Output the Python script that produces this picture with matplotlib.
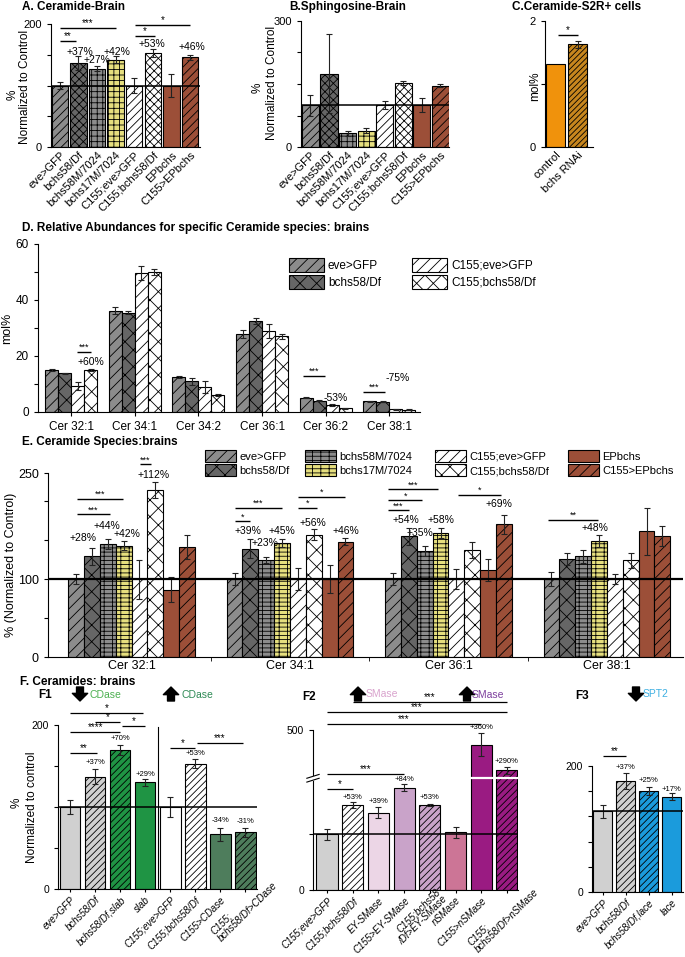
import numpy as np
import matplotlib
matplotlib.use('Agg')
import matplotlib.pyplot as plt
from matplotlib.patches import Patch, Rectangle, FancyArrowPatch

plt.rcParams['font.family'] = ['Liberation Sans', 'DejaVu Sans']
plt.rcParams['hatch.linewidth'] = 0.6
plt.rcParams['axes.linewidth'] = 0.8
plt.rcParams['xtick.major.width'] = 0.8
plt.rcParams['ytick.major.width'] = 0.8
plt.rcParams['xtick.major.size'] = 3
plt.rcParams['ytick.major.size'] = 3

# ---------------- data ----------------
genotypes_ab = ["eve>GFP", "bchs58/Df", "bchs58M/7024", "bchs17M/7024",
                "C155;eve>GFP", "C155;bchs58/Df", "EPbchs", "C155>EPbchs"]
cer_brain = [100, 137, 127, 142, 100, 153, 100, 146]
cer_brain_err = [6, 11, 4, 6, 12, 6, 18, 4]
sph_brain = [100, 175, 33, 39, 100, 153, 100, 146]
sph_brain_err = [25, 95, 6, 6, 10, 5, 16, 3]

s2r_labels = ["control", "bchs RNAi"]
s2r_mol = [1.31, 1.63]
s2r_err = [0, 0.06]

species_d = ["Cer 32:1", "Cer 34:1", "Cer 34:2", "Cer 36:1", "Cer 36:2", "Cer 38:1"]
d_groups = ["eve>GFP", "bchs58/Df", "C155;eve>GFP", "C155;bchs58/Df"]
d_eve = [15.0, 36.2, 12.5, 28.0, 5.1, 3.8]
d_bchs = [13.8, 35.5, 11.0, 32.5, 4.0, 3.7]
d_c155eve = [9.2, 49.8, 9.0, 29.0, 2.5, 0.9]
d_c155bchs = [15.0, 50.0, 6.2, 27.0, 1.3, 0.8]
d_eve_err = [0.3, 1.2, 0.4, 1.4, 0.2, 0.2]
d_bchs_err = [0.3, 0.5, 1.2, 1.0, 0.2, 0.2]
d_c155eve_err = [1.5, 2.5, 2.2, 2.4, 0.5, 0.2]
d_c155bchs_err = [0.5, 1.0, 0.4, 0.8, 0.2, 0.1]

species_e = ["Cer 32:1", "Cer 34:1", "Cer 36:1", "Cer 38:1"]
e_cer321 = [100, 129, 145, 143, 100, 214, 86, 141]
e_cer341 = [100, 139, 124, 146, 100, 157, 100, 148]
e_cer361 = [100, 155, 136, 159, 100, 137, 112, 170]
e_cer381 = [100, 126, 129, 149, 100, 124, 161, 155]
e_cer321_err = [7, 11, 6, 6, 25, 10, 16, 15]
e_cer341_err = [8, 12, 4, 5, 14, 7, 18, 4]
e_cer361_err = [8, 11, 7, 7, 13, 10, 14, 12]
e_cer381_err = [9, 8, 8, 8, 6, 10, 30, 13]

f1_labels = ["eve>GFP", "bchs58/Df", "bchs58/Df,slab", "slab", "C155;eve>GFP",
             "C155;bchs58/Df", "C155>CDase", "C155;\nbchs58/Df>CDase"]
f1_vals = [100, 137, 170, 130, 100, 153, 67, 69]
f1_err = [8, 9, 6, 4, 12, 5, 8, 5]

f2_labels = ["C155;eve>GFP", "C155;bchs58/Df", "EY-SMase", "C155>EY-SMase",
             "C155;bchs58\n/Df>EY-SMase", "nSMase", "C155>nSMase",
             "C155;\nbchs58/Df>nSMase"]
f2_vals = [100, 153, 139, 184, 153, 104, 460, 390]
f2_err = [10, 5, 10, 6, 2, 10, 32, 10]

f3_labels = ["eve>GFP", "bchs58/Df", "bchs58/Df,lace", "lace"]
f3_vals = [100, 137, 125, 118]
f3_err = [8, 10, 5, 4]

# ---------------- styles ----------------
GRAY = '#8c8c8c'
DGRAY = '#666666'
YEL = '#e6df7e'
BROWN = '#9c4f38'
ab_colors = [GRAY, DGRAY, GRAY, YEL, 'white', 'white', BROWN, BROWN]
ab_hatch = ['////', 'xxxx', '+++', '+++', '////', 'xxxx', None, '////']
e_hatch = ['///', 'xx', '++--', '++--', '///', 'xx', None, '///']

W, H = 685, 957
fig = plt.figure(figsize=(W / 100, H / 100), dpi=100)


def add_ax(l, t, r, b):
    ax = fig.add_axes([l / W, 1 - b / H, (r - l) / W, (b - t) / H])
    ax.spines['top'].set_visible(False)
    ax.spines['right'].set_visible(False)
    return ax


def ftext(x, y, s, **kw):
    kw.setdefault('va', 'center')
    fig.text(x / W, 1 - y / H, s, **kw)


def sig(ax, x1, x2, y, label, fs=7, lw=1.0, gap=0):
    ax.plot([x1, x2], [y, y], color='k', lw=lw, clip_on=False, solid_capstyle='butt')
    ax.annotate(label, ((x1 + x2) / 2, y), xytext=(0, gap), textcoords='offset points',
                ha='center', va='bottom', fontsize=fs, annotation_clip=False)


def bars(ax, x, vals, errs, colors, hatches, width, ecol='k', lw=0.8, elw=0.8, cap=2):
    for xi, v, e, c, h in zip(x, vals, errs, colors, hatches):
        ax.bar(xi, v, width=width, color=c, edgecolor=ecol, hatch=h, linewidth=lw, zorder=2)
        if e:
            ax.errorbar(xi, v, yerr=e, fmt='none', ecolor='#222222', elinewidth=elw,
                        capsize=cap, capthick=elw, zorder=4)


def arrow(x, y_tail, y_tip):
    fig.add_artist(FancyArrowPatch(
        (x / W, 1 - y_tail / H), (x / W, 1 - y_tip / H), transform=fig.transFigure,
        arrowstyle='simple,head_width=1.1,head_length=0.55,tail_width=0.5',
        mutation_scale=10, color='k', shrinkA=0, shrinkB=0))


def xlabels(ax, labels, fs=7, special=None):
    """rotated italic labels; special = {index: (dx_pt, dy_pt, multialign)}"""
    special = special or {}
    ax.set_xticks(np.arange(len(labels)))
    ax.set_xticklabels(['' if i in special else l for i, l in enumerate(labels)])
    for i, (dx, dy, ma) in special.items():
        ax.annotate(labels[i], (i, 0), xycoords=('data', 'axes fraction'),
                    xytext=(dx, dy), textcoords='offset points', rotation=45,
                    ha='right', va='top', rotation_mode='anchor', multialignment=ma,
                    fontsize=fs, style='italic', linespacing=1.0, annotation_clip=False)
    for t in ax.get_xticklabels():
        t.set_rotation(45)
        t.set_ha('right')
        t.set_rotation_mode('anchor')
        t.set_fontsize(fs)
        t.set_style('italic')


# ================= Panel A =================
axA = add_ax(51, 24, 200, 147)
xa = np.arange(8)
bars(axA, xa, cer_brain, cer_brain_err, ab_colors, ab_hatch, 0.88)
axA.axhline(100, color='k', lw=1.1, zorder=5)
axA.set_xlim(-0.48, 7.54)
axA.set_ylim(0, 200)
axA.set_yticks([0, 50, 100, 150, 200])
axA.set_yticklabels(['0', '', '', '', '200'], fontsize=8)
axA.set_xticks(xa)
axA.set_xticklabels(genotypes_ab, rotation=45, ha='right', rotation_mode='anchor', fontsize=8)
axA.tick_params(axis='x', length=0, pad=2)
sig(axA, 0, 3, 193, '***')
sig(axA, 0, 0.85, 172, '**')
sig(axA, 4.03, 7.0, 198, '*')
sig(axA, 4.03, 5.1, 180, '*')
for xi, yv, s in [(1.1, 154, '+37%'), (2.0, 141, '+27%'), (3.07, 154, '+42%'),
                  (4.95, 167, '+53%'), (7.1, 163, '+46%')]:
    axA.text(xi, yv, s, ha='center', va='center', fontsize=7.5)
ftext(22, 7, 'A. Ceramide-Brain', fontsize=8.5, fontweight='bold')
ftext(13, 95, '%', rotation=90, fontsize=8.5, ha='center')
ftext(25, 87, 'Normalized to Control', rotation=90, fontsize=8.5, ha='center')

# ================= Panel B =================
axB = add_ax(301, 21, 449, 147)
bars(axB, xa, sph_brain, sph_brain_err, ab_colors, ab_hatch, 0.92)
axB.axhline(100, color='k', lw=1.1, zorder=5)
axB.set_xlim(-0.51, 7.46)
axB.set_ylim(0, 300)
axB.set_yticks([0, 75, 150, 225, 300])
axB.set_yticklabels(['0', '', '', '', '300'], fontsize=8)
axB.set_xticks(xa)
axB.set_xticklabels(genotypes_ab, rotation=45, ha='right', rotation_mode='anchor', fontsize=8)
axB.tick_params(axis='x', length=0, pad=2)
ftext(348, 7, 'B.Sphingosine-Brain', fontsize=8.5, fontweight='bold', ha='center')
ftext(258, 88, '%', rotation=90, fontsize=8.5, ha='center')
ftext(272, 83, 'Normalized to Control', rotation=90, fontsize=8.5, ha='center')

# ================= Panel C =================
axC = add_ax(545, 21, 593, 147)
bars(axC, [0, 1], s2r_mol, s2r_err, ['#f0920c', '#c7861e'], [None, '//////'], 0.88)
axC.set_xlim(-0.48, 1.7)
axC.set_ylim(0, 2)
axC.set_yticks([0, 1, 2])
axC.set_yticklabels(['0', '', '2'], fontsize=8)
axC.set_xticks([0, 1])
axC.set_xticklabels(s2r_labels, rotation=45, ha='right', rotation_mode='anchor', fontsize=8)
axC.tick_params(axis='x', length=0, pad=2)
sig(axC, 0.1, 1.0, 1.78, '*')
ftext(577, 7, 'C.Ceramide-S2R+ cells', fontsize=8.5, fontweight='bold', ha='center')
ftext(535, 86, 'mol%', rotation=90, fontsize=8.5, ha='center')

# ================= Panel D =================
axD = add_ax(38, 244, 420, 412)
xd = np.arange(len(species_d))
bw = 0.204
d_series = [d_eve, d_bchs, d_c155eve, d_c155bchs]
d_errs = [d_eve_err, d_bchs_err, d_c155eve_err, d_c155bchs_err]
d_cols = [GRAY, DGRAY, 'white', 'white']
d_hat = ['///', 'xx', '///', 'xx']
for i in range(4):
    bars(axD, xd + (i - 1.5) * bw, d_series[i], d_errs[i], [d_cols[i]] * 6, [d_hat[i]] * 6, bw)
axD.set_xlim(-0.52, 5.48)
axD.set_ylim(0, 60)
axD.set_yticks([0, 10, 20, 30, 40, 50, 60])
axD.set_yticklabels(['0', '', '20', '', '40', '', '60'], fontsize=8.5)
axD.set_xticks(xd)
axD.set_xticklabels(species_d, fontsize=8.5)
axD.set_ylabel('mol%', fontsize=9, labelpad=2)
sig(axD, 0.094, 0.314, 21.4, '***', fs=6.5)
sig(axD, 3.64, 3.99, 12.9, '***', fs=6.5)
sig(axD, 4.58, 4.93, 7.1, '***', fs=6.5)
axD.text(0.31, 17.9, '+60%', ha='center', va='center', fontsize=7.5)
axD.text(4.16, 5.1, '-53%', ha='center', va='center', fontsize=7.5)
axD.text(5.13, 12, '-75%', ha='center', va='center', fontsize=7.5)
ftext(22, 228, 'D. Relative Abundances for specific Ceramide species: brains',
      fontsize=8.5, fontweight='bold')
d_handles = [Patch(facecolor=c, edgecolor='k', hatch=h, label=l, linewidth=0.8)
             for c, h, l in zip(d_cols, d_hat, d_groups)]
for k, xpos in enumerate([289, 412]):
    fig.legend(handles=d_handles[2 * k:2 * k + 2], loc='upper left',
               bbox_to_anchor=(xpos / W, 1 - 258 / H), frameon=False, fontsize=8.5,
               handlelength=3.0, handleheight=1.45, handletextpad=0.3,
               labelspacing=0.25, borderpad=0, borderaxespad=0)

# ================= Panel E =================
axE = add_ax(48, 473, 683, 657)
xe = np.arange(4)
e_vals = [e_cer321, e_cer341, e_cer361, e_cer381]
e_errs = [e_cer321_err, e_cer341_err, e_cer361_err, e_cer381_err]
ebw = 0.1
for g in range(4):
    bars(axE, xe[g] + (np.arange(8) - 3.5) * ebw, e_vals[g], e_errs[g], ab_colors, e_hatch, ebw)
axE.axhline(100, color='k', lw=1.6, zorder=5)
axE.set_xlim(-0.527, 3.48)
axE.set_ylim(0, 236)
axE.set_yticks([0, 50, 100, 150, 200, 236])
axE.set_yticklabels(['0', '', '100', '', '', '250'], fontsize=9)
axE.set_xticks(xe)
axE.set_xticklabels(species_e, fontsize=9)
axE.set_xticks(xe[:-1] + 0.5, minor=True)
axE.tick_params(axis='x', which='major', length=0, pad=2)
axE.tick_params(axis='x', which='minor', length=3)
axE.set_ylabel('% (Normalized to Control)', fontsize=9, labelpad=1)
e_sig = [(-0.344, -0.054, 203, '***'), (-0.344, -0.136, 183, '***'), (0.054, 0.123, 247, '***'),
         (1 - 0.347, 1 - 0.252, 174, '*'), (1 - 0.347, 1 - 0.05, 191, '***'),
         (1.05, 1.17, 191, '*'), (1.05, 1.35, 205, '*'),
         (2 - 0.38, 2 - 0.066, 215, '***'), (2 - 0.38, 2 - 0.167, 201, '*'),
         (2 - 0.38, 2 - 0.25, 188, '***'), (2.06, 2.33, 208, '*'),
         (3 - 0.37, 3 - 0.057, 176, '**')]
for x1, x2, yv, s in e_sig:
    sig(axE, x1, x2, yv, s, fs=6.5)
e_pct = [(0.142, 233, '+112%'), (-0.306, 153, '+28%'), (-0.155, 168, '+44%'),
         (-0.03, 158, '+42%'), (1 - 0.265, 161, '+39%'), (1 - 0.16, 146, '+23%'),
         (1 - 0.05, 161, '+45%'), (1.145, 172, '+56%'), (1.355, 161, '+46%'),
         (2 - 0.27, 176, '+54%'), (2 - 0.18, 159, '+35%'), (2 - 0.047, 176, '+58%'),
         (2.32, 196, '+69%'), (3 - 0.076, 165, '+48%')]
for xi, yv, s in e_pct:
    axE.text(xi, yv, s, ha='center', va='center', fontsize=7.5, clip_on=False)
ftext(22, 442, 'E. Ceramide Species:brains', fontsize=8.5, fontweight='bold')
e_handles = [Patch(facecolor=c, edgecolor='k', hatch=h, label=l, linewidth=0.8)
             for c, h, l in zip(ab_colors, e_hatch, genotypes_ab)]
for k, xpos in enumerate([205, 305, 435, 568]):
    fig.legend(handles=e_handles[2 * k:2 * k + 2], loc='upper left',
               bbox_to_anchor=(xpos / W, 1 - 450 / H), frameon=False, fontsize=8,
               handlelength=2.8, handleheight=1.3, handletextpad=0.3,
               labelspacing=0.2, borderpad=0, borderaxespad=0)

# ================= Panel F1 =================
LG = '#d0d0d0'
GREEN = '#1f9444'
DKGREEN = '#4e7d5c'
axF1 = add_ax(58, 725, 257, 889)
xf1 = np.arange(8)
bars(axF1, xf1, f1_vals, f1_err,
     [LG, LG, GREEN, GREEN, 'white', 'white', DKGREEN, DKGREEN],
     [None, '/////', '/////', None, None, '/////', None, '/////'], 0.82)
axF1.axhline(100, color='k', lw=1.1, zorder=5)
axF1.plot([3.5, 3.5], [0, 197], color='k', lw=0.8, zorder=5)
axF1.set_xlim(-0.48, 7.46)
axF1.set_ylim(0, 200)
axF1.set_yticks([0, 50, 100, 150, 200])
axF1.set_yticklabels(['0', '', '', '', '200'], fontsize=7.5)
xlabels(axF1, f1_labels, special={7: (14, 11, 'left')})
axF1.tick_params(axis='x', length=2, pad=2)
for x1, x2, yv, s in [(0, 1.07, 166, '**'), (0, 2.0, 191, '****'), (1.0, 2.0, 204, '*'),
                      (2.06, 3.0, 199, '*'), (0, 2.9, 215, '*'), (4.0, 5.0, 172, '*'),
                      (5.05, 6.9, 178, '***')]:
    sig(axF1, x1, x2, yv, s, fs=7, lw=0.9)
for xi, yv, s in [(1, 154, '+37%'), (2, 184, '+70%'), (3, 140, '+29%'),
                  (5, 165, '+53%'), (6, 83, '-34%'), (7, 82, '-31%')]:
    axF1.text(xi, yv, s, ha='center', va='center', fontsize=5.5)
ftext(20, 682, 'F. Ceramides: brains', fontsize=8.5, fontweight='bold')
ftext(38, 695, 'F1', fontsize=8.5, fontweight='bold')
ftext(17, 803, '%', rotation=90, fontsize=8.5, ha='center')
ftext(32, 807, 'Normalized to control', rotation=90, fontsize=8.5, ha='center')
arrow(80, 687, 701)
ftext(90, 695, 'CDase', fontsize=7.5, color='#4cb050')
arrow(171, 701, 687)
ftext(181, 695, 'CDase', fontsize=7.5, color='#2e8a55')

# ================= Panel F2 (broken axis) =================
f2_bx = [-1000, 0, 200, 370, 500, 2000]
f2_by = [-1000, 0, 200, 202, 287.8, 1277.8]


def f2_forward(v):
    return np.interp(v, f2_bx, f2_by)


def f2_inverse(u):
    return np.interp(u, f2_by, f2_bx)


axF2 = add_ax(313, 730, 518, 890)
axF2.set_yscale('function', functions=(f2_forward, f2_inverse))
xf2 = np.arange(8)
PURL = '#c9a3c9'
MAG = '#9a1b82'
bars(axF2, xf2, f2_vals, f2_err,
     [LG, 'white', '#ecd6e6', PURL, PURL, '#cc7596', MAG, MAG],
     [None, '/////', None, None, '/////', None, None, '/////'], 0.82)
axF2.axhline(100, color='k', lw=1.1, zorder=5)
axF2.hlines(285, 5.55, 7.45, color='white', lw=1.6, zorder=6)
axF2.set_xlim(-0.545, 7.43)
axF2.set_ylim(0, 500)
axF2.set_yticks([0, 100, 200, 500])
axF2.set_yticklabels(['0', '', '', '500'], fontsize=7.5)
xlabels(axF2, f2_labels, special={4: (4, 2, 'right'), 7: (14, 7, 'left')})
axF2.tick_params(axis='x', length=2, pad=2)
ybr = f2_forward(285) / f2_forward(500)
axF2.add_patch(Rectangle((-0.02, ybr - 0.015), 0.04, 0.03, transform=axF2.transAxes,
                         facecolor='white', edgecolor='none', clip_on=False, zorder=7))
for dy in (-0.012, 0.012):
    axF2.plot([-0.03, 0.03], [ybr + dy - 0.012, ybr + dy + 0.012], transform=axF2.transAxes,
              color='k', lw=0.8, clip_on=False, zorder=8)
for x1, x2, yv, s in [(0, 1, 182, '*'), (0, 3, 380, '***'), (0, 6, 516, '***'),
                      (0, 7, 549, '***'), (1, 7, 576, '***')]:
    sig(axF2, x1, x2, yv, s, fs=7, lw=0.9)
for xi, yv, s in [(1, 167, '+53%'), (2, 160, '+39%'), (3, 198, '+84%'), (4, 167, '+53%'),
                  (6, 508, '+360%'), (7, 413, '+290%')]:
    axF2.text(xi, yv, s, ha='center', va='center', fontsize=5.5)
ftext(302, 697, 'F2', fontsize=8.5, fontweight='bold')
arrow(358, 701, 687)
ftext(366, 694, 'SMase', fontsize=7.5, color='#d9a3cd')
arrow(467, 701, 687)
ftext(472, 695, 'SMase', fontsize=7.5, color='#7d3f9d')

# ================= Panel F3 =================
BLUE = '#1b9bdc'
axF3 = add_ax(592, 766, 683, 892)
xf3 = np.arange(4)
bars(axF3, xf3, f3_vals, f3_err, [LG, LG, BLUE, BLUE], [None, '/////', '/////', None], 0.83)
axF3.axhline(100, color='k', lw=1.1, zorder=5)
axF3.set_xlim(-0.48, 3.5)
axF3.set_ylim(0, 156)
axF3.set_yticks(np.linspace(0, 156, 6))
axF3.set_yticklabels(['0', '', '', '', '', '200'], fontsize=7.5)
xlabels(axF3, f3_labels)
axF3.tick_params(axis='x', length=2, pad=2)
sig(axF3, 0, 1.0, 168, '**', fs=7, lw=0.9)
for xi, yv, s in [(1, 154, '+37%'), (2, 138, '+25%'), (3, 127, '+17%')]:
    axF3.text(xi, yv, s, ha='center', va='center', fontsize=5.5)
ftext(575, 696, 'F3', fontsize=8.5, fontweight='bold')
arrow(636, 687, 701)
ftext(643, 694, 'SPT2', fontsize=7.5, color='#3fb0e2')

fig.savefig('out.png', dpi=100)
